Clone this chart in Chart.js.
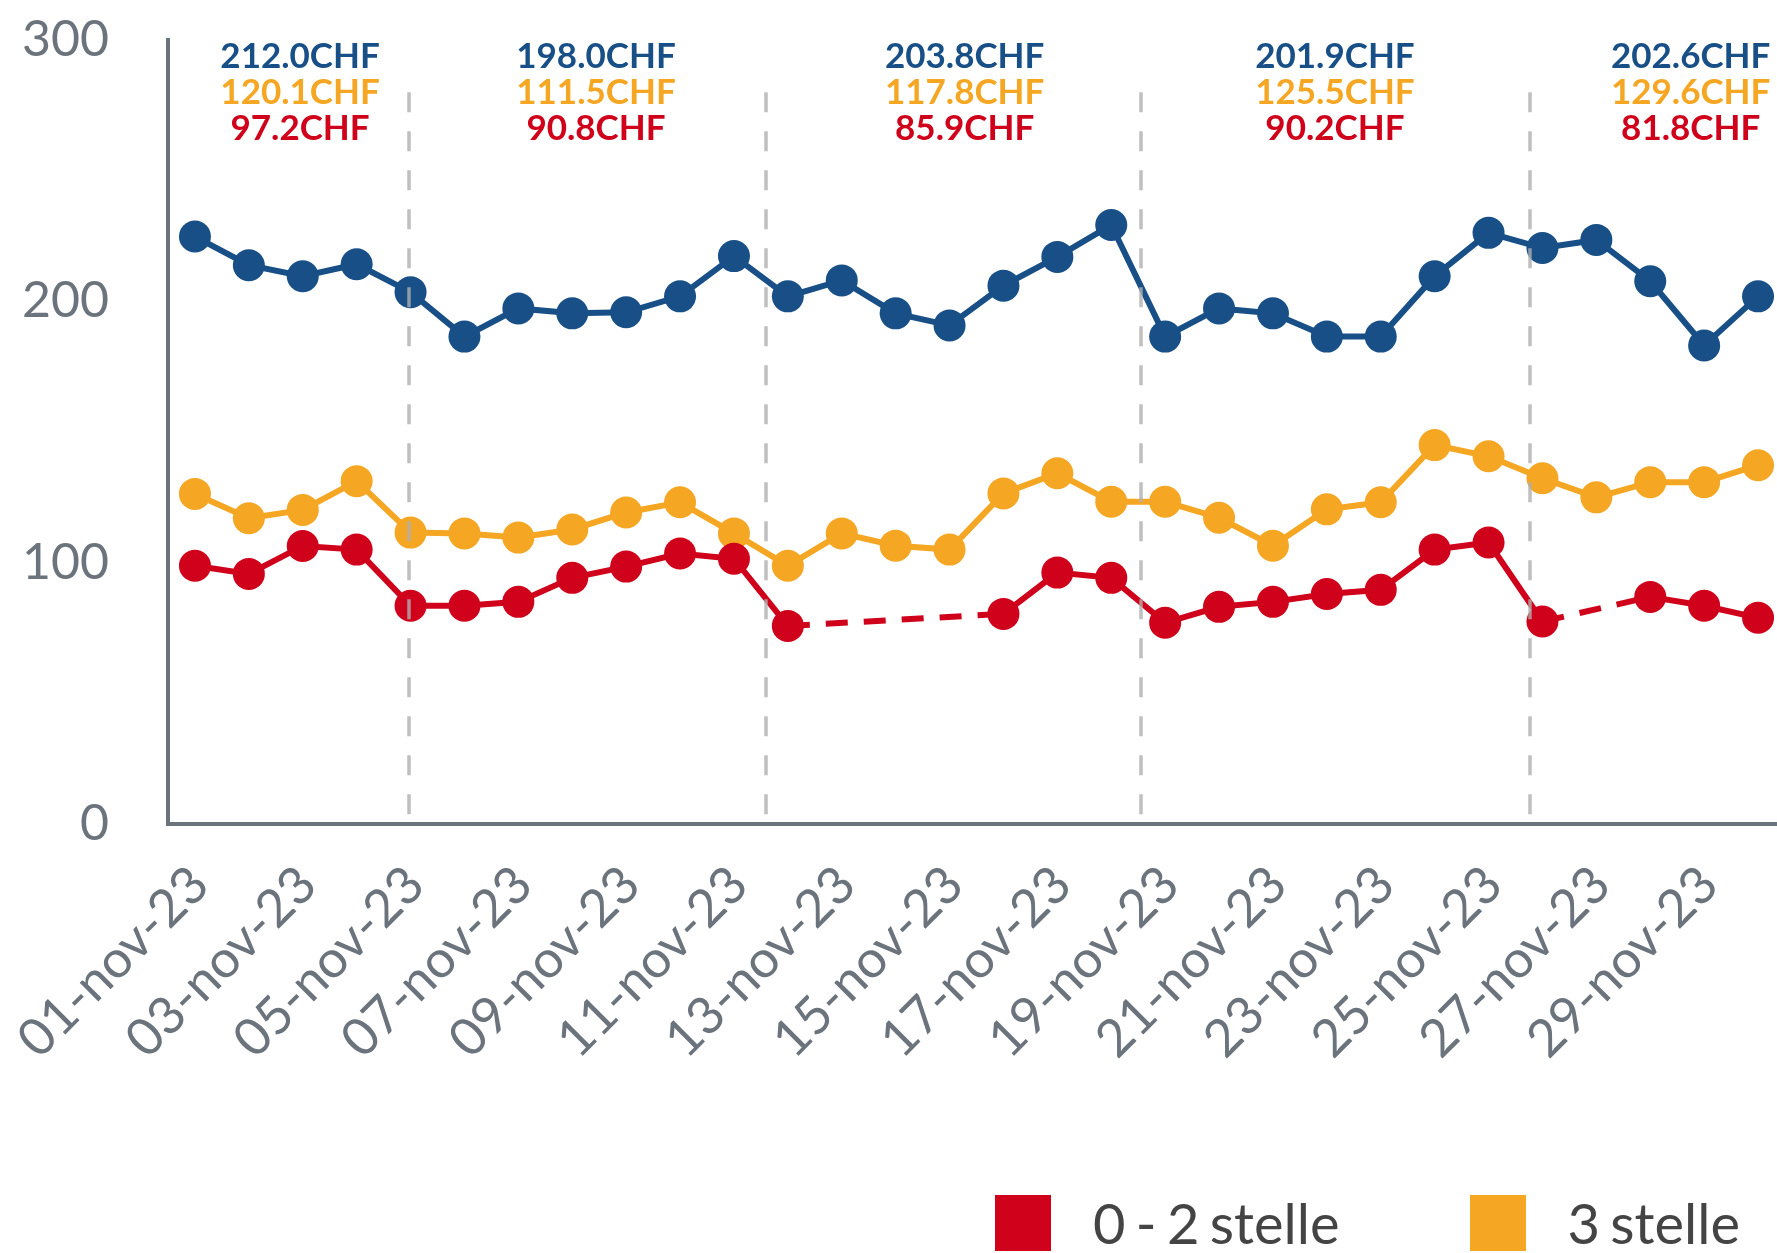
<!DOCTYPE html>
<html>
<head>
<meta charset="utf-8">
<script src="https://cdn.jsdelivr.net/npm/chart.js@4.4.1/dist/chart.umd.min.js"></script>
<style>
  html, body { margin: 0; padding: 0; background: #fff; overflow: hidden; }
  #wrap { position: relative; width: 1777px; height: 1253px; overflow: hidden; }
  #chart { position: absolute; left: 0; top: 0; }
  #legend { position: absolute; left: 995px; top: 1195px; display: flex; gap: 130px; font-family: Lato, sans-serif; font-size: 56px; line-height: 56px; word-spacing: -4px; color: #444; white-space: nowrap; }
  #legend .item { display: flex; align-items: flex-start; }
  #legend .box { width: 56px; height: 56px; margin-right: 42px; }
</style>
</head>
<body>
<div id="wrap">
  <canvas id="chart" width="1801" height="1253"></canvas>
  <div id="legend"></div>
</div>
<script>
const days = [
    '01-nov-23', '02-nov-23', '03-nov-23', '04-nov-23', '05-nov-23', '06-nov-23',
    '07-nov-23', '08-nov-23', '09-nov-23', '10-nov-23', '11-nov-23', '12-nov-23',
    '13-nov-23', '14-nov-23', '15-nov-23', '16-nov-23', '17-nov-23', '18-nov-23',
    '19-nov-23', '20-nov-23', '21-nov-23', '22-nov-23', '23-nov-23', '24-nov-23',
    '25-nov-23', '26-nov-23', '27-nov-23', '28-nov-23', '29-nov-23', '30-nov-23',
];

// prezzo medio per notte (CHF)
const stelle02 = [98.8, 95.7, 106.4, 105.0, 83.5, 83.5, 85.0, 94.2, 98.5, 103.5, 101.5, 75.8, null, null, null,
    80.4, 96.2, 94.2, 77.0, 83.1, 85.0, 88.0, 89.6, 105.0, 107.7, 77.5, null, 86.9, 83.5, 78.9];
const stelle3 = [126.3, 117.0, 120.2, 131.2, 111.5, 111.2, 109.6, 112.7, 119.2, 123.1, 111.2, 98.8, 111.2, 106.5, 105.0,
    126.5, 134.2, 123.3, 123.3, 117.2, 106.5, 120.4, 123.1, 145.0, 140.7, 132.3, 125.0, 130.8, 130.8, 137.3];
const stelle45 = [224.8, 213.8, 209.6, 214.2, 203.5, 186.5, 197.3, 195.4, 195.8, 201.9, 217.3, 201.9, 208.0, 195.4, 190.8,
    206.0, 217.0, 229.2, 186.5, 197.3, 195.4, 186.5, 186.5, 209.6, 226.2, 220.4, 223.5, 207.7, 183.1, 201.9];

// medie settimanali
const weekAvg02 = [97.2, 90.8, 85.9, 90.2, 81.8];
const weekAvg3 = [120.1, 111.5, 117.8, 125.5, 129.6];
const weekAvg45 = [212.0, 198.0, 203.8, 201.9, 202.6];

// separatori e etichette settimanali, in unità dell'asse x (indice del giorno)
const weekDividers = [3.97, 10.59, 17.55, 24.77];
const weekLabelAt = [1.95, 7.44, 14.28, 21.15, 27.75];

const RED = '#d0021b';
const ORANGE = '#f5a623';
const BLUE = '#174f86';
const AXIS = '#6b737c';

// tratto tratteggiato dove mancano i dati
const gapDash = (ctx) => (ctx.p0.skip || ctx.p1.skip ? [22, 16] : undefined);

const weekNotes = {
    id: 'weekNotes',
    afterDatasetsDraw(chart) {
        const { ctx, scales: { x, y } } = chart;
        ctx.save();
        ctx.strokeStyle = 'rgba(175,175,175,0.8)';
        ctx.lineWidth = 3.5;
        ctx.setLineDash([20, 19]);
        const top = y.getPixelForValue(280);
        const bottom = chart.chartArea.bottom + 6;
        weekDividers.forEach(v => {
            const px = Math.round(x.getPixelForValue(v));
            ctx.beginPath();
            ctx.moveTo(px, top);
            ctx.lineTo(px, bottom);
            ctx.stroke();
        });
        ctx.setLineDash([]);
        ctx.font = 'bold 35px Lato';
        ctx.textAlign = 'center';
        ctx.textBaseline = 'alphabetic';
        const rows = [[weekAvg45, BLUE], [weekAvg3, ORANGE], [weekAvg02, RED]];
        weekLabelAt.forEach((v, i) => {
            const px = x.getPixelForValue(v);
            rows.forEach(([arr, col], r) => {
                ctx.fillStyle = col;
                ctx.fillText(arr[i].toFixed(1) + 'CHF', px, 68 + r * 36);
            });
        });
        ctx.restore();
    },
};

const line = (label, data, color) => ({
    label,
    data,
    borderColor: color,
    backgroundColor: color,
    borderWidth: 6,
    pointRadius: 16,
    pointHoverRadius: 16,
    pointBorderWidth: 0,
    tension: 0,
    spanGaps: true,
    segment: { borderDash: gapDash },
});

const datasets = [
    line('0 - 2 stelle', stelle02, RED),
    line('3 stelle', stelle3, ORANGE),
    line('4 - 5 stelle', stelle45, BLUE),
];

Chart.defaults.font.family = 'Lato';

new Chart(document.getElementById('chart'), {
    type: 'line',
    data: { labels: days, datasets },
    options: {
        responsive: false,
        animation: false,
        devicePixelRatio: 1,
        layout: { padding: { top: 40, right: 0, bottom: 0, left: 0 } },
        plugins: { legend: { display: false }, tooltip: { enabled: false } },
        scales: {
            x: {
                offset: true,
                grid: { display: false, drawTicks: false },
                border: { display: true, color: AXIS, width: 4 },
                ticks: {
                    autoSkip: false,
                    minRotation: 45,
                    maxRotation: 45,
                    padding: 30,
                    labelOffset: 5,
                    color: AXIS,
                    font: { size: 52 },
                    callback: (v, i) => (i % 2 === 0 ? days[i] : ''),
                },
                afterFit: (s) => {
                    s.height = 429;
                    s.paddingLeft = 0;
                    s.paddingRight = 0;
                },
            },
            y: {
                min: 0,
                max: 300,
                grid: { display: false, drawTicks: true, tickLength: 59 },
                border: { display: true, color: AXIS, width: 4 },
                ticks: { stepSize: 100, padding: 0, color: AXIS, font: { size: 50 } },
                afterFit: (s) => { s.width = 168; },
            },
        },
    },
    plugins: [weekNotes],
});

// legenda (solo le due fasce visibili nel riquadro)
const legend = document.getElementById('legend');
datasets.slice(0, 2).forEach(ds => {
    const item = document.createElement('div');
    item.className = 'item';
    const box = document.createElement('div');
    box.className = 'box';
    box.style.background = ds.borderColor;
    const txt = document.createElement('span');
    txt.textContent = ds.label;
    item.appendChild(box);
    item.appendChild(txt);
    legend.appendChild(item);
});
</script>
</body>
</html>
